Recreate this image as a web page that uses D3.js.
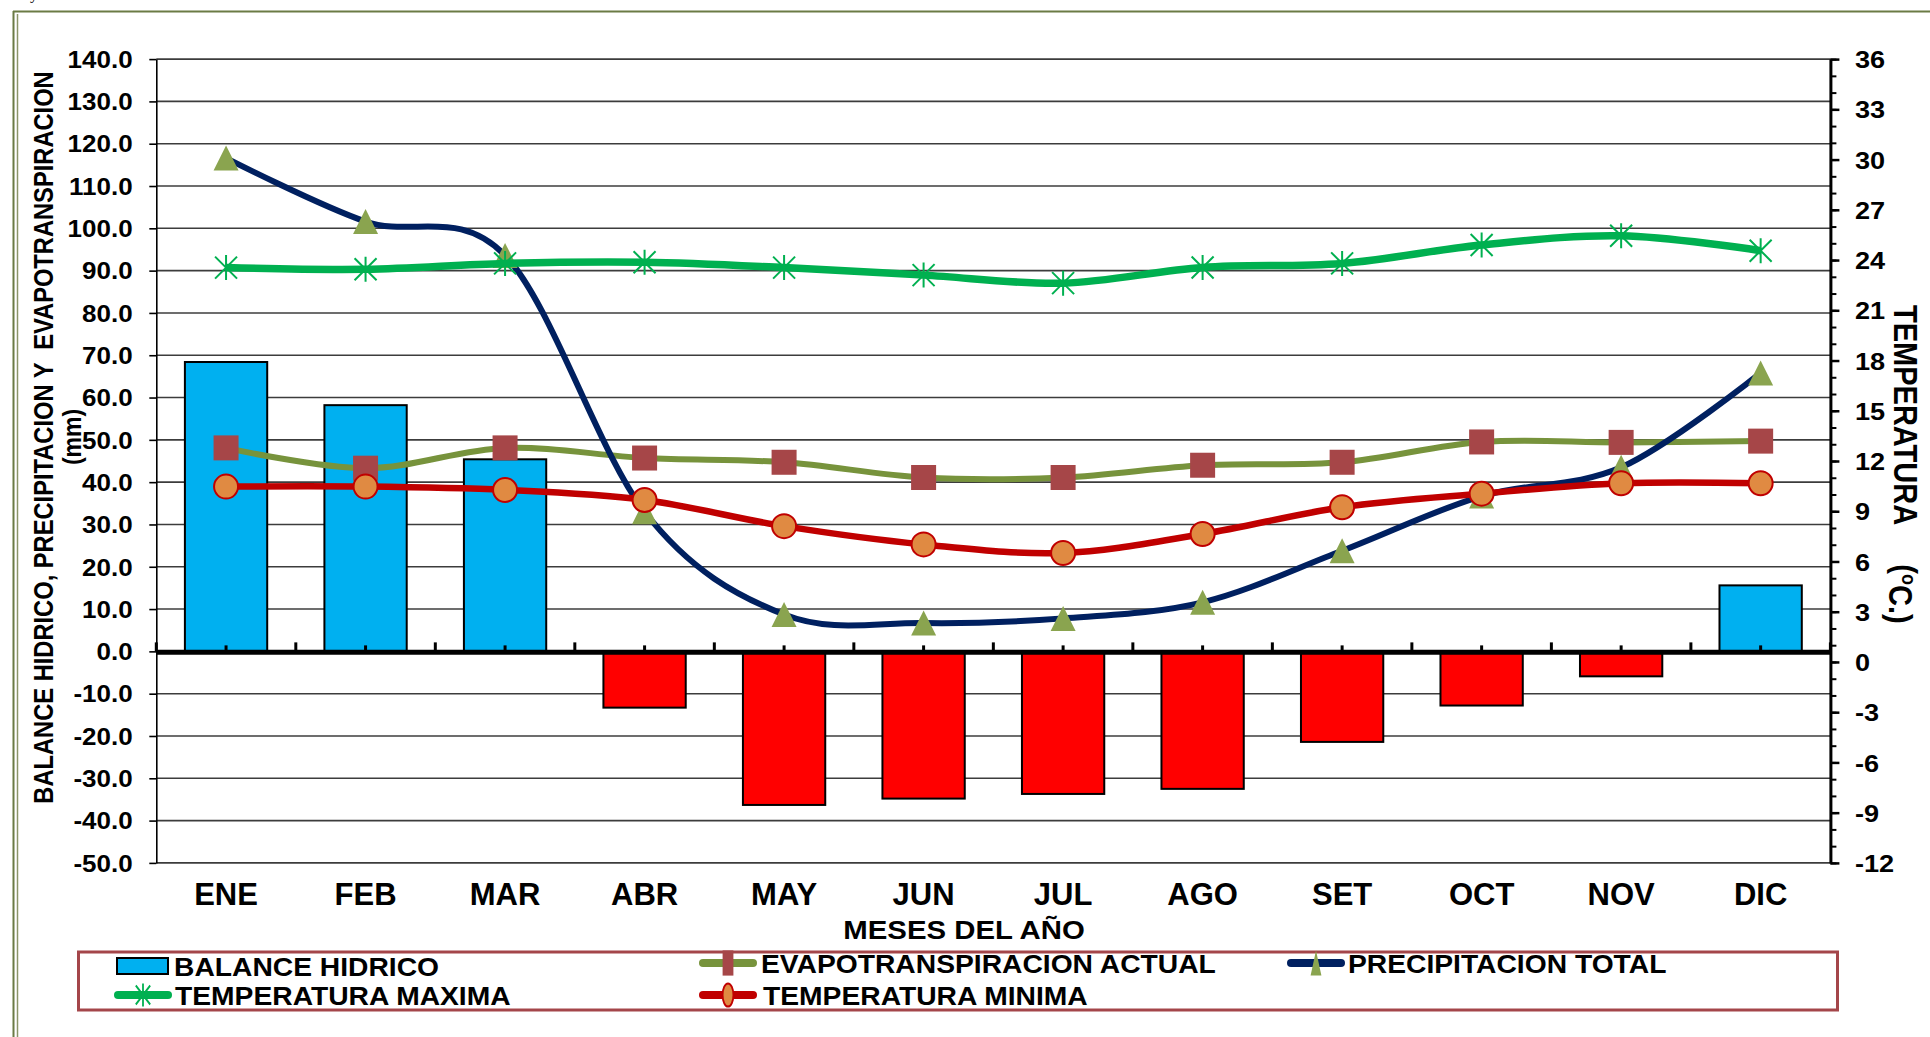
<!DOCTYPE html>
<html>
<head>
<meta charset="utf-8">
<script src="https://cdn.jsdelivr.net/npm/d3@7/dist/d3.min.js"></script>
<style>
	body { margin: 0; background: #fff; }
	text { font-family: "Liberation Sans", Arial, sans-serif; font-weight: bold; fill: #000; }
</style>
</head>
<body>
<svg id="chart" width="1930" height="1037"></svg>
<script>
var months = ["ENE","FEB","MAR","ABR","MAY","JUN","JUL","AGO","SET","OCT","NOV","DIC"];
var balance = [68.4, 58.2, 45.4, -13.3, -36.3, -34.8, -33.7, -32.5, -21.4, -12.8, -5.9, 15.6];
var etr = [48.1, 43.3, 48.1, 45.7, 44.7, 41.1, 41.1, 44.0, 44.7, 49.5, 49.4, 49.7];
var prec = [116.6, 101.6, 93.6, 33.0, 8.7, 6.7, 7.8, 11.6, 23.8, 36.7, 43.5, 65.8];
var tmax = [23.55, 23.45, 23.8, 23.87, 23.55, 23.1, 22.62, 23.56, 23.8, 24.9, 25.45, 24.56];
var tmin = [10.47, 10.47, 10.27, 9.67, 8.11, 7.02, 6.51, 7.64, 9.24, 10.05, 10.67, 10.67];

var leftTicks = [-50,-40,-30,-20,-10,0,10,20,30,40,50,60,70,80,90,100,110,120,130,140];
var rightTicks = [-12,-9,-6,-3,0,3,6,9,12,15,18,21,24,27,30,33,36];
var rightMinor = [-12,-11,-10,-9,-8,-7,-6,-5,-4,-3,-2,-1,0,1,2,3,4,5,6,7,8,9,10,11,12,13,14,15,16,17,18,19,20,21,22,23,24,25,26,27,28,29,30,31,32,33,34,35,36];

var legendItems = ["BALANCE HIDRICO","EVAPOTRANSPIRACION ACTUAL","PRECIPITACION TOTAL","TEMPERATURA MAXIMA","TEMPERATURA MINIMA"];

buildChart();

function buildChart() {
	var svg = d3.select("#chart");
	var SX = 1.13; // text in the original is a bit wide

	var left = 156.3, right = 1830.4, top = 59.1, bottom = 862.9;

	var yL = d3.scaleLinear().domain([-50, 140]).range([bottom, top]);
	var yR = d3.scaleLinear().domain([-12, 36]).range([bottom, top]);
	var xb = d3.scaleBand().domain(months).range([left, right]).paddingInner(0.41).paddingOuter(0.205);
	var xc = d3.scalePoint().domain(months).range([left, right]).padding(0.5);
	var step = (right - left) / months.length;

	// frame
	svg.append("rect").attr("width", 1930).attr("height", 1037).attr("fill", "#fff");
	svg.append("text").attr("x", 30).attr("y", -1)
		.style("font-family", "Liberation Serif").style("font-weight", "normal").style("font-size", "16px")
		.text("y");
	svg.append("line").attr("x1", 13).attr("x2", 1930).attr("y1", 11.5).attr("y2", 11.5)
		.attr("stroke", "#6b7b45").attr("stroke-width", 2);
	svg.append("line").attr("x1", 13.5).attr("x2", 13.5).attr("y1", 11).attr("y2", 1037)
		.attr("stroke", "#6b7b45").attr("stroke-width", 2);
	svg.append("line").attr("x1", 17.5).attr("x2", 17.5).attr("y1", 14).attr("y2", 1037)
		.attr("stroke", "#8a9468").attr("stroke-width", 1.5);

	// gridlines
	svg.append("g").selectAll("line")
		.data(leftTicks).enter().append("line")
			.attr("x1", left).attr("x2", right)
			.attr("y1", function(d) { return yL(d); })
			.attr("y2", function(d) { return yL(d); })
			.attr("stroke", "#3c3c3c").attr("stroke-width", 1.6);

	// left axis
	var axL = svg.append("g").attr("transform", "translate(" + left + ",0)")
		.call(d3.axisLeft(yL).tickValues(leftTicks).tickSize(7).tickSizeOuter(0)
			.tickFormat(function(d) { return d.toFixed(1); }));
	axL.select(".domain").attr("stroke", "#000").attr("stroke-width", 1.6);
	axL.selectAll(".tick line").attr("stroke", "#000").attr("stroke-width", 1.6);
	axL.selectAll("text")
		.attr("x", -23.7 / SX).attr("dy", "0.36em")
		.attr("transform", "scale(" + SX + ",1)")
		.style("font-size", "23px").style("font-family", "Liberation Sans, Arial").style("font-weight", "bold");

	// right axis
	var axRm = svg.append("g").attr("transform", "translate(" + right + ",0)")
		.call(d3.axisRight(yR).tickValues(rightMinor).tickSize(6).tickSizeOuter(0).tickFormat(""));
	axRm.selectAll(".tick line").attr("stroke", "#000").attr("stroke-width", 2);
	var axR = svg.append("g").attr("transform", "translate(" + right + ",0)")
		.call(d3.axisRight(yR).tickValues(rightTicks).tickSize(9).tickSizeOuter(0)
			.tickFormat(function(d) { return String(d); }));
	axR.select(".domain").attr("stroke", "#000").attr("stroke-width", 3);
	axRm.select(".domain").remove();
	axR.selectAll(".tick line").attr("stroke", "#000").attr("stroke-width", 2.5);
	axR.selectAll("text")
		.attr("x", 24.6 / SX).attr("dy", "0.36em")
		.attr("transform", "scale(" + SX + ",1)")
		.style("font-size", "24px").style("font-family", "Liberation Sans, Arial").style("font-weight", "bold");

	// bars
	svg.append("g").selectAll("rect")
		.data(balance).enter().append("rect")
			.attr("x", function(d, i) { return xb(months[i]); })
			.attr("width", xb.bandwidth())
			.attr("y", function(d) { return d >= 0 ? yL(d) : yL(0); })
			.attr("height", function(d) { return Math.abs(yL(d) - yL(0)); })
			.attr("fill", function(d) { return d >= 0 ? "#00b0f0" : "#ff0000"; })
			.attr("stroke", "#000").attr("stroke-width", 2);

	// category axis on zero
	var y0 = yL(0);
	svg.append("line").attr("x1", left).attr("x2", right).attr("y1", y0 + 1).attr("y2", y0 + 1)
		.attr("stroke", "#000").attr("stroke-width", 5);
	svg.append("g").selectAll("line")
		.data(d3.range(months.length + 1)).enter().append("line")
			.attr("x1", function(k) { return left + k * step; })
			.attr("x2", function(k) { return left + k * step; })
			.attr("y1", y0).attr("y2", y0 - 9)
			.attr("stroke", "#000").attr("stroke-width", 3);
	svg.append("g").selectAll("line")
		.data(months).enter().append("line")
			.attr("x1", function(d) { return xc(d); })
			.attr("x2", function(d) { return xc(d); })
			.attr("y1", y0).attr("y2", y0 - 6)
			.attr("stroke", "#000").attr("stroke-width", 3);

	var curve = d3.curveCatmullRom.alpha(0);

	function drawLine(values, scale, color, width) {
		var line = d3.line()
			.x(function(d, i) { return xc(months[i]); })
			.y(function(d) { return scale(d); })
			.curve(curve);
		svg.append("path").datum(values)
			.attr("d", line)
			.attr("fill", "none")
			.attr("stroke", color)
			.attr("stroke-width", width)
			.attr("stroke-linejoin", "round");
	}

	function square(g) {
		g.append("rect").attr("x", -12.5).attr("y", -12.5).attr("width", 25).attr("height", 25)
			.attr("fill", "#a64648");
	}
	function triangle(g) {
		g.append("path").attr("d", "M0,-12.5L12.5,12.5L-12.5,12.5Z").attr("fill", "#8aa44f");
	}
	function star(g) {
		g.append("path").attr("d", "M0,-12.5V12.5M-11,-11L11,11M-11,11L11,-11")
			.attr("stroke", "#00b050").attr("stroke-width", 2).attr("fill", "none");
	}
	function circle(g) {
		g.append("circle").attr("r", 12).attr("fill", "#e08a42")
			.attr("stroke", "#c00000").attr("stroke-width", 2);
	}

	function drawMarkers(values, scale, shape) {
		svg.append("g").selectAll("g")
			.data(values).enter().append("g")
				.attr("transform", function(d, i) { return "translate(" + xc(months[i]) + "," + scale(d) + ")"; })
				.each(function() { shape(d3.select(this)); });
	}

	drawLine(etr, yL, "#77933c", 6);
	drawMarkers(etr, yL, square);
	drawLine(prec, yL, "#002060", 6);
	drawMarkers(prec, yL, triangle);
	drawLine(tmax, yR, "#00b050", 7.5);
	drawMarkers(tmax, yR, star);
	drawLine(tmin, yR, "#c00000", 6.5);
	drawMarkers(tmin, yR, circle);

	// category labels
	svg.append("g").selectAll("text")
		.data(months).enter().append("text")
			.attr("transform", function(d) { return "translate(" + xc(d) + ",905)"; })
			.attr("text-anchor", "middle")
			.style("font-size", "31px")
			.text(function(d) { return d; });

	svg.append("text")
		.attr("transform", "translate(964,939) scale(" + SX + ",1)")
		.attr("text-anchor", "middle")
		.style("font-size", "26px")
		.text("MESES DEL AÑO");

	// left title
	svg.append("text")
		.attr("transform", "translate(43,437.5) scale(" + SX + ",1) rotate(-90)")
		.attr("text-anchor", "middle").attr("dy", "0.36em")
		.style("font-size", "23.7px").style("white-space", "pre")
		.text("BALANCE HIDRICO, PRECIPITACION Y  EVAPOTRANSPIRACION");
	svg.append("text")
		.attr("transform", "translate(72,437) scale(" + SX + ",1) rotate(-90)")
		.attr("text-anchor", "middle").attr("dy", "0.36em")
		.style("font-size", "23px")
		.text("(mm)");

	// right title
	var rt = svg.append("text")
		.attr("transform", "translate(1906,305) scale(" + SX + ",1) rotate(90)")
		.attr("dy", "0.36em")
		.style("font-size", "29px").style("white-space", "pre");
	rt.append("tspan").text("TEMPERATURA     (");
	rt.append("tspan").attr("dy", "-0.4em").style("font-size", "18px").text("o");
	rt.append("tspan").attr("dy", "0.4em").text("C.)");

	// legend
	svg.append("rect").attr("x", 78.5).attr("y", 952).attr("width", 1759).attr("height", 58)
		.attr("fill", "none").attr("stroke", "#a4464a").attr("stroke-width", 3);

	var leg = [
		{ x: 117, y: 966, tx: 174, kind: "bar" },
		{ x: 699, y: 963, tx: 761, kind: "etr" },
		{ x: 1287, y: 963, tx: 1348, kind: "prec" },
		{ x: 114, y: 995, tx: 175, kind: "tmax" },
		{ x: 699, y: 995, tx: 763, kind: "tmin" }
	];
	var lineColor = { etr: "#77933c", prec: "#002060", tmax: "#00b050", tmin: "#c00000" };

	leg.forEach(function(d, i) {
		if (d.kind === "bar") {
			svg.append("rect").attr("x", d.x).attr("y", d.y - 8).attr("width", 51).attr("height", 16)
				.attr("fill", "#00b0f0").attr("stroke", "#000").attr("stroke-width", 2);
		} else {
			svg.append("line").attr("x1", d.x + 4).attr("x2", d.x + 54).attr("y1", d.y).attr("y2", d.y)
				.attr("stroke", lineColor[d.kind]).attr("stroke-width", 8).attr("stroke-linecap", "round");
			var g = svg.append("g").attr("transform", "translate(" + (d.x + 29) + "," + d.y + ") scale(0.9,1.05)");
			if (d.kind === "etr") {
				g.append("rect").attr("x", -6).attr("y", -12).attr("width", 12).attr("height", 24).attr("fill", "#a64648");
			} else if (d.kind === "prec") {
				g.append("path").attr("d", "M0,-12L6,12L-6,12Z").attr("fill", "#8aa44f");
			} else if (d.kind === "tmin") {
				g.append("ellipse").attr("rx", 6).attr("ry", 11).attr("fill", "#e08a42")
					.attr("stroke", "#c00000").attr("stroke-width", 2);
			} else {
				g.append("path").attr("d", "M0,-11V11M-8,-9L8,9M-8,9L8,-9")
					.attr("stroke", "#00b050").attr("stroke-width", 2).attr("fill", "none");
			}
		}
		svg.append("text")
			.attr("transform", "translate(" + d.tx + "," + (d.y + 9.5) + ") scale(" + SX + ",1)")
			.style("font-size", "25px")
			.text(legendItems[i]);
	});
}
</script>
</body>
</html>
